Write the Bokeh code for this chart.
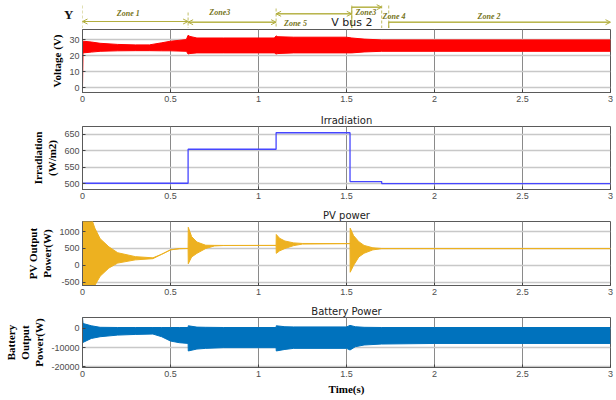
from bokeh.plotting import figure
from bokeh.layouts import column
from bokeh.models import Range1d, FixedTicker, Arrow, OpenHead, ColumnDataSource, Title
from bokeh.core.properties import value
from bokeh.embed import file_html
from bokeh.resources import INLINE

# ---------------- data ----------------
x_ticks = [0, 0.5, 1, 1.5, 2, 2.5, 3]
x_tick_labels = ["0", "0.5", "1", "1.5", "2", "2.5", "3"]

# V bus 2 (band envelope of the oscillating voltage)
vbus_t = [0, 0.003, 0.05, 0.1, 0.2, 0.3, 0.38, 0.45, 0.5, 0.59, 0.6, 0.61, 0.65, 0.8,
          1.09, 1.1, 1.11, 1.2, 1.5, 1.53, 1.6, 1.7, 2.0, 2.5, 3.0]
vbus_hi = [29, 29, 28.5, 27.7, 27.0, 26.7, 26.7, 28.0, 29.0, 30.0, 32.7, 32.0, 31.0, 31.0,
           31.0, 32.3, 31.8, 31.5, 31.5, 31.0, 30.3, 29.8, 29.8, 29.8, 29.8]
vbus_lo = [0, 21.7, 22.2, 22.7, 23.0, 23.1, 23.1, 23.0, 23.0, 22.7, 21.0, 21.3, 21.7, 21.7,
           21.7, 21.0, 21.3, 21.7, 21.7, 21.7, 22.3, 22.7, 22.7, 22.7, 22.7]
v_ticks = [0, 10, 20, 30]

# Irradiation (steps)
irr_t = [0, 0.6, 1.1, 1.52, 1.70, 3.0]
irr_v = [502, 605, 655, 507, 501, 501]
irr_ticks = [500, 550, 600, 650]

# PV power (band envelope)
pv_t = [0, 0.05, 0.07, 0.1, 0.15, 0.2, 0.3, 0.4, 0.45, 0.5, 0.55, 0.6, 0.601, 0.62, 0.65,
        0.7, 0.75, 0.8, 1.1, 1.101, 1.12, 1.15, 1.2, 1.25, 1.52, 1.521, 1.54, 1.57, 1.6,
        1.65, 1.7, 2.0, 3.0]
pv_hi = [1400, 1400, 1100, 790, 548, 375, 260, 225, 330, 460, 495, 500, 1125, 850, 690,
         596, 592, 590, 590, 913, 800, 720, 665, 648, 645, 1100, 880, 700, 590,
         520, 500, 497, 497]
pv_lo = [-600, -600, -590, -317, -75, 70, 165, 200, 330, 460, 495, 500, 50, 250, 357,
         500, 575, 588, 590, 357, 430, 500, 585, 630, 643, -200, 0, 250, 360,
         460, 494, 497, 497]
pv_ticks = [-500, 0, 500, 1000]

# Battery power (band envelope)
bat_t = [0, 0.003, 0.05, 0.1, 0.2, 0.3, 0.4, 0.45, 0.5, 0.55, 0.6, 0.601, 0.65, 0.7, 0.8,
         1.1, 1.101, 1.15, 1.2, 1.5, 1.52, 1.55, 1.6, 1.7, 2.0, 3.0]
bat_hi = [5700, 2600, 1400, 600, 500, 500, 500, 500, 500, 500, 500, 1400, 700, 600, 500,
          500, 1400, 900, 800, 800, 1600, 900, 600, 500, 500, 500]
bat_lo = [-7250, -7250, -5200, -4300, -3450, -3100, -2900, -4300, -6550, -7400, -7770,
          -11700, -10700, -10350, -10000, -10000, -11700, -10900, -10350, -10350, -11200,
          -9500, -8600, -8100, -7800, -7800]
bat_ticks = [-20000, -10000, 0]

# Zones
zone_names = ["Zone 1", "Zone3", "Zone 5", "Zone3", "Zone 4", "Zone 2"]
zone_start = [0, 0.6, 1.1, 1.53, 1.70, 1.74]
zone_end = [0.6, 1.1, 1.53, 1.70, 1.74, 3.0]
zone_label_t = [0.26, 0.78, 1.21, 1.61, 1.77, 2.31]

# ---------------- layout / style ----------------
LEFT = 82
RIGHT = 5
FRAME_W = 528

OLIVE = "#b2ae3e"
OLIVE_TXT = "#76741a"
RED = "#ff0000"
YEL = "#EDB120"
BLUE = "#0072BD"
IRR = "#4646ff"

# annotation rows (page pixel rows); head style per zone: "both", "end", None (no line)
arrow_row = [21.0, 21.7, 13.3, 6.7, 21.5, 21.7]
label_row = [13.0, 12.0, 22.5, 12.0, 15.5, 16.0]
label_align = ["center", "center", "center", "center", "left", "center"]
heads = ["both", "both", "both", "end", None, "end"]
bound_top = [5, 12, 8, 5, 5, 5]
STRIP_H = 28

xr = Range1d(0, 3)

# ---- annotation strip ----
f0 = figure(frame_width=FRAME_W, frame_height=STRIP_H, x_range=xr,
            y_range=Range1d(STRIP_H, 0),
            x_axis_type=None, toolbar_location=None, output_backend="svg",
            min_border_left=LEFT, min_border_right=RIGHT, min_border_top=0, min_border_bottom=0)
f0.grid.visible = False
f0.outline_line_color = None
f0.yaxis.ticker = FixedTicker(ticks=[])
f0.yaxis.axis_line_color = None
f0.yaxis.major_tick_line_color = None
f0.yaxis.minor_tick_line_color = None
f0.yaxis.axis_label = "Y"
f0.yaxis.axis_label_orientation = "horizontal"
f0.yaxis.axis_label_text_font = "Liberation Serif"
f0.yaxis.axis_label_text_font_style = "bold"
f0.yaxis.axis_label_text_font_size = "13px"
f0.yaxis.axis_label_text_color = "#111111"
f0.yaxis.axis_label_standoff = 9

# dashed zone boundaries
f0.segment(x0=zone_start, x1=zone_start, y0=bound_top, y1=[STRIP_H + 1] * len(zone_start),
           line_color=OLIVE, line_dash="3 2", line_width=1, line_alpha=0.8)
# horizontal zone lines
lx0 = [s for s, h in zip(zone_start, heads) if h]
lx1 = [e for e, h in zip(zone_end, heads) if h]
ly = [r for r, h in zip(arrow_row, heads) if h]
f0.segment(x0=lx0, x1=lx1, y0=ly, y1=ly, line_color=OLIVE, line_width=1)
# solid corner verticals for bracket-style zones
cx = [s for s, h in zip(zone_start, heads) if h == "end"]
cy = [r for r, h in zip(arrow_row, heads) if h == "end"]
f0.segment(x0=cx, x1=cx, y0=cy, y1=[STRIP_H + 1] * len(cx), line_color=OLIVE, line_width=1)
# arrow heads
both = ColumnDataSource(dict(
    x0=[s for s, h in zip(zone_start, heads) if h == "both"],
    x1=[e for e, h in zip(zone_end, heads) if h == "both"],
    y=[r for r, h in zip(arrow_row, heads) if h == "both"]))
f0.add_layout(Arrow(start=OpenHead(size=5, line_color=OLIVE, line_width=1),
                    end=OpenHead(size=5, line_color=OLIVE, line_width=1),
                    x_start="x0", y_start="y", x_end="x1", y_end="y", source=both,
                    line_color=OLIVE, line_width=1))
endonly = ColumnDataSource(dict(
    x0=[s for s, h in zip(zone_start, heads) if h == "end"],
    x1=[e for e, h in zip(zone_end, heads) if h == "end"],
    y=[r for r, h in zip(arrow_row, heads) if h == "end"]))
f0.add_layout(Arrow(start=None, end=OpenHead(size=5, line_color=OLIVE, line_width=1),
                    x_start="x0", y_start="y", x_end="x1", y_end="y", source=endonly,
                    line_color=OLIVE, line_width=1))
for align in ("center", "left"):
    idx = [i for i, a in enumerate(label_align) if a == align]
    f0.text(x=[zone_label_t[i] if align == "center" else zone_start[i] + 0.005 for i in idx],
            y=[label_row[i] for i in idx], text=[zone_names[i] for i in idx],
            text_font=value("Liberation Serif"), text_font_style="bold italic",
            text_font_size="8px", text_align=align, text_baseline="middle",
            text_color=OLIVE_TXT)
f0.text(x=[1.53], y=[21.5], text=["V bus 2"], text_font=value("DejaVu Sans"),
        text_font_size="11px", text_align="center", text_baseline="middle",
        text_color="#222222")


def panel(frame_h, top, bottom, yr, yticks, ylabel, title=None):
    p = figure(frame_width=FRAME_W, frame_height=frame_h, x_range=xr, y_range=Range1d(*yr),
               toolbar_location=None, output_backend="svg",
               min_border_left=LEFT, min_border_right=RIGHT,
               min_border_top=top, min_border_bottom=bottom)
    if title:
        p.title.text = title
        p.title.align = "center"
        p.title.text_font = "DejaVu Sans"
        p.title.text_font_size = "10px"
        p.title.text_font_style = "normal"
        p.title.text_color = "#222222"
        p.title.standoff = 2
    p.xaxis.ticker = FixedTicker(ticks=x_ticks)
    p.xaxis.major_label_overrides = dict(zip(x_ticks, x_tick_labels))
    p.yaxis.ticker = FixedTicker(ticks=yticks)
    p.yaxis.major_label_overrides = {v: str(v) for v in yticks}
    for ax in (p.xaxis, p.yaxis):
        ax.major_label_text_font = "Liberation Sans"
        ax.major_label_text_font_size = "9px"
        ax.major_label_text_color = "#4d4d4d"
        ax.major_tick_in = 3
        ax.major_tick_out = 0
        ax.minor_tick_line_color = None
        ax.axis_line_color = "#5a5a5a"
        ax.major_tick_line_color = "#444444"
        ax.major_label_standoff = 3
    p.yaxis.axis_label = ylabel
    p.yaxis.axis_label_text_font = "Liberation Serif"
    p.yaxis.axis_label_text_font_style = "bold"
    p.yaxis.axis_label_text_font_size = "11px"
    p.yaxis.axis_label_text_color = "#000000"
    p.yaxis.axis_label_standoff = 3
    p.xgrid.grid_line_color = "#8a8a8a"
    p.xgrid.grid_line_width = 1
    p.ygrid.grid_line_color = "#c8c8c8"
    p.ygrid.grid_line_width = 1.5
    p.outline_line_color = "#5a5a5a"
    p.background_fill_color = "white"
    return p


def band(p, t, lo, hi, color):
    p.varea(x=t, y1=lo, y2=hi, fill_color=color, fill_alpha=1.0)
    p.line(t, hi, line_color=color, line_width=1)
    p.line(t, lo, line_color=color, line_width=1)


p1 = panel(63, 1, 17, (-3, 36.3), v_ticks, "Voltage (V)")
band(p1, vbus_t, vbus_lo, vbus_hi, RED)

p2 = panel(63, 17, 15, (483, 674), irr_ticks, "Irradiation\n(W/m2)", "Irradiation")
p2.step(irr_t, irr_v, mode="after", line_color=IRR, line_width=1.3)

p3 = panel(64, 17, 15, (-590, 1295), pv_ticks, "PV Output\nPower(W)", "PV power")
band(p3, pv_t, pv_lo, pv_hi, YEL)

p4 = panel(50, 17, 30, (-20300, 5700), bat_ticks, "Battery\nOutput\nPower(W)", "Battery Power")
band(p4, bat_t, bat_lo, bat_hi, BLUE)
xt = Title(text="Time(s)", align="center", offset=43, text_font="Liberation Serif",
           text_font_style="bold", text_font_size="11px", text_color="#000000", standoff=2)
p4.add_layout(xt, "below")

layout = column(f0, p1, p2, p3, p4, spacing=0)
open("out.html", "w").write(file_html(layout, INLINE))
